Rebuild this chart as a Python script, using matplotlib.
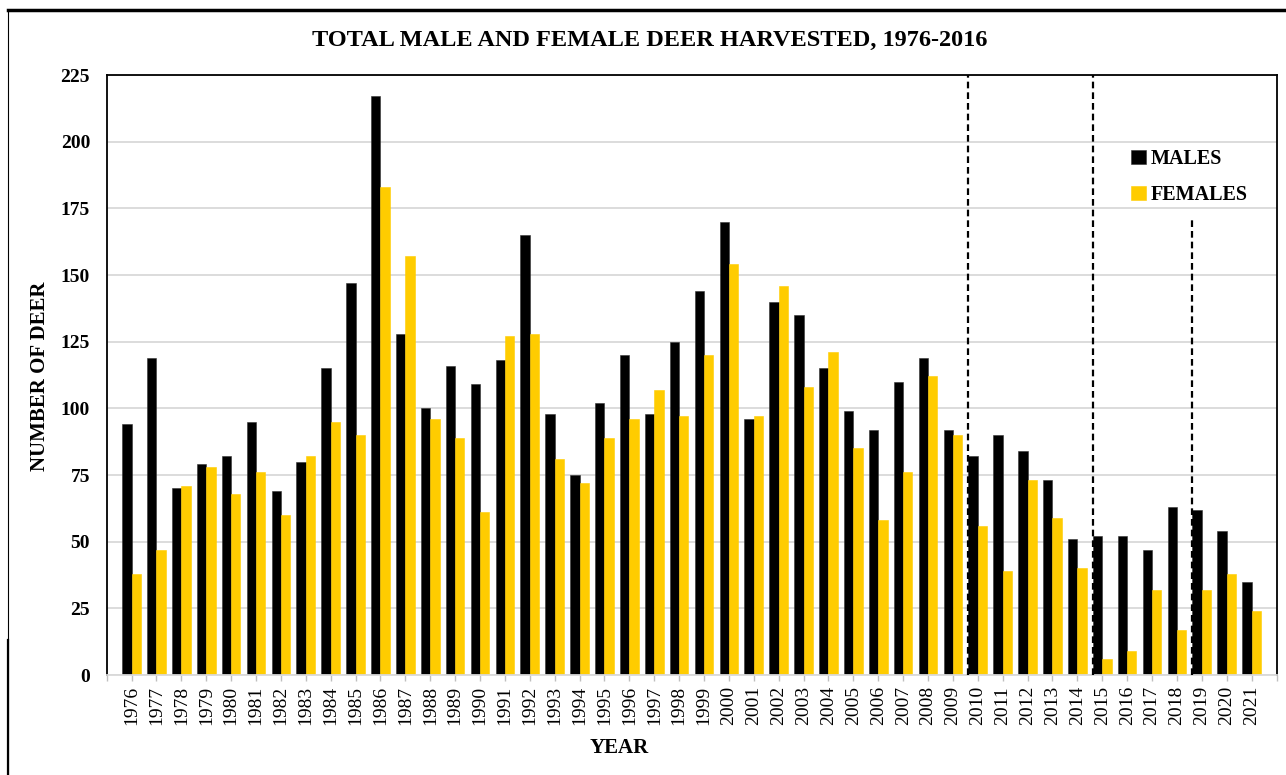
import numpy as np
import matplotlib
matplotlib.use('Agg')
import matplotlib.pyplot as plt
from matplotlib.lines import Line2D

plt.rcParams['font.family'] = ['Liberation Serif', 'DejaVu Serif']

years = list(range(1976, 2022))
males = [94, 119, 70, 79, 82, 95, 69, 80, 115, 147,
         217, 128, 100, 116, 109, 118, 165, 98, 75, 102,
         120, 98, 125, 144, 170, 96, 140, 135, 115, 99,
         92, 110, 119, 92, 82, 90, 84, 73, 51, 52,
         52, 47, 63, 62, 54, 35]
females = [38, 47, 71, 78, 68, 76, 60, 82, 95, 90,
           183, 157, 96, 89, 61, 127, 128, 81, 72, 89,
           96, 107, 97, 120, 154, 97, 146, 108, 121, 85,
           58, 76, 112, 90, 56, 39, 73, 59, 40, 6,
           9, 32, 17, 32, 38, 24]
# dashed marker lines: (year, top value)
marker_years = [2010, 2015, 2019]
marker_tops = [225, 225, 171]

W, H = 1286, 775
fig = plt.figure(figsize=(W / 100, H / 100), dpi=100)
ax = fig.add_axes([106.7 / W, 1 - 675 / H, (1276.5 - 106.7) / W, 600 / H])

x = np.arange(len(years))
bw = 0.375
ax.bar(x - bw / 2, males, width=bw, color='black', edgecolor='#333333', linewidth=0.4,
       label='MALES', zorder=2)
ax.bar(x + bw / 2, females, width=bw, color='#FFCC00', edgecolor='#FFCC00', linewidth=0.4,
       label='FEMALES', zorder=2)

for yr, top in zip(marker_years, marker_tops):
    xi = years.index(yr) - 0.39
    ax.plot([xi, xi], [0, top], color='black', lw=1.6, ls=(0, (3, 1.8)), zorder=4)

ax.set_xlim(-1, len(years))
ax.set_ylim(0, 225)
ax.set_yticks(np.arange(0, 226, 25))
ax.yaxis.grid(True, color='#d9d9d9', lw=1.3, zorder=0)
ax.set_axisbelow(True)

ax.set_xticks(x)
ax.set_xticklabels([str(y) for y in years], rotation=90, fontsize=14)
ax.set_xticks([-1, len(years)], minor=True)
ax.tick_params(axis='x', which='both', length=4, color='#bfbfbf', width=1, pad=4)
ax.tick_params(axis='y', length=0, pad=12)
for lab in ax.get_yticklabels():
    lab.set_fontsize(14)
    lab.set_fontweight('bold')

for side in ['top', 'left', 'right']:
    ax.spines[side].set_color('black')
    ax.spines[side].set_linewidth(1.3)
ax.spines['bottom'].set_color('#d9d9d9')
ax.spines['bottom'].set_linewidth(1.3)

ax.legend(loc='upper left', bbox_to_anchor=(0.876, 0.877), frameon=False,
          handlelength=0.7, handleheight=0.7, handletextpad=0.25, labelspacing=0.8,
          borderpad=0, borderaxespad=0, prop={'weight': 'bold', 'size': 14.5})

fig.text(0.505, 1 - 40 / H, 'TOTAL MALE AND FEMALE DEER HARVESTED, 1976-2016',
         ha='center', va='center', fontsize=17.5, fontweight='bold')
fig.text(619 / W, 1 - 748 / H, 'YEAR', ha='center', va='center', fontsize=15, fontweight='bold')
fig.text(40 / W, 1 - 376 / H, 'NUMBER OF DEER', ha='center', va='center', rotation=90,
         fontsize=15, fontweight='bold')

# outer frame pieces
fig.add_artist(Line2D([8 / W, 1], [1 - 9.5 / H, 1 - 9.5 / H], color='black', lw=2.5))
fig.add_artist(Line2D([8 / W, 8 / W], [0, 1 - 9.5 / H], color='black', lw=0.8))
fig.add_artist(Line2D([8 / W, 8 / W], [0, 1 - 640 / H], color='black', lw=1.6))

fig.savefig('out.png', dpi=100)
